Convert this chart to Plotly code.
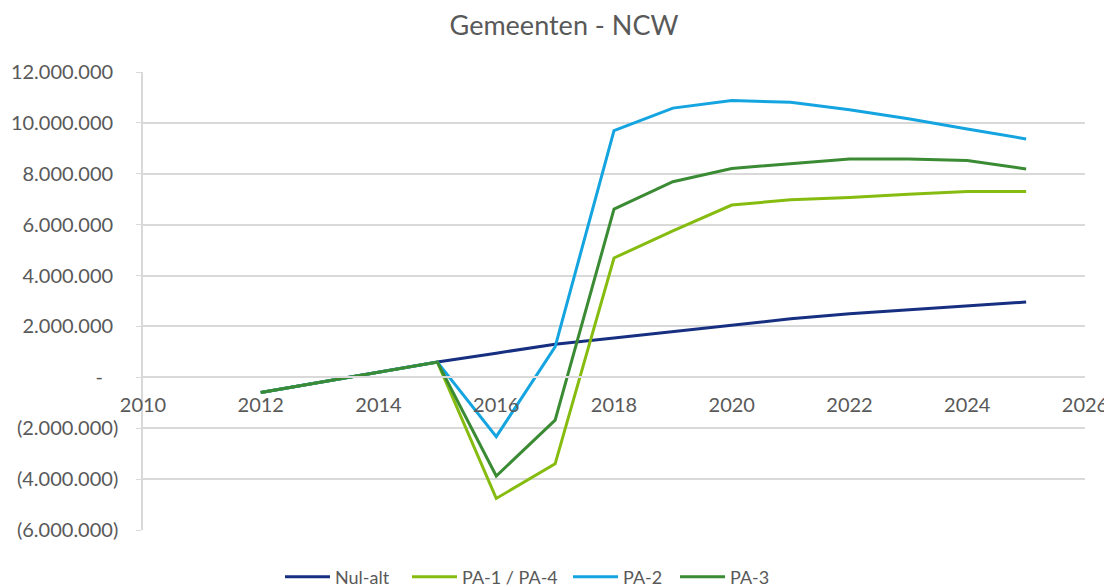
import plotly.graph_objects as go

years = list(range(2012, 2026))

nul_alt = [-600000, -200000, 200000, 600000, 950000, 1300000, 1550000, 1800000,
           2050000, 2300000, 2500000, 2650000, 2800000, 2960000]
pa1_pa4 = [-600000, -200000, 200000, 600000, -4760000, -3400000, 4690000, 5760000,
           6770000, 6980000, 7070000, 7200000, 7300000, 7300000]
pa2 = [-600000, -200000, 200000, 600000, -2330000, 1200000, 9700000, 10580000,
       10880000, 10810000, 10520000, 10160000, 9760000, 9370000]
pa3 = [-600000, -200000, 200000, 600000, -3880000, -1680000, 6610000, 7690000,
       8210000, 8390000, 8580000, 8580000, 8520000, 8190000]

series_names = ["Nul-alt", "PA-1 / PA-4", "PA-2", "PA-3"]
series_values = [nul_alt, pa1_pa4, pa2, pa3]
series_colors = ["#172F80", "#86BC10", "#14A4E0", "#3A8B33"]

y_tickvals = [-6000000, -4000000, -2000000, 0, 2000000, 4000000, 6000000,
              8000000, 10000000, 12000000]
y_ticktext = ["(6.000.000)", "(4.000.000)", "(2.000.000)", "-\u00a0\u00a0\u00a0",
              "2.000.000\u00a0", "4.000.000\u00a0", "6.000.000\u00a0",
              "8.000.000\u00a0", "10.000.000\u00a0", "12.000.000\u00a0"]
x_tickvals = list(range(2010, 2027, 2))

font_family = "Lato, 'Open Sans', sans-serif"
grey = "#595959"
ymin, ymax = -6000000, 12000000

# legend entry left positions (container fraction), one legend per series
legend_ids = ["legend", "legend2", "legend3", "legend4"]
legend_x = [272 / 1112, 399 / 1112, 560 / 1112, 667 / 1112]

fig = go.Figure()
for name, vals, col, lid in zip(series_names, series_values, series_colors, legend_ids):
    fig.add_trace(go.Scatter(x=years, y=vals, name=name, mode="lines",
                             legend=lid, line=dict(color=col, width=3)))

legend_common = dict(orientation="h", xanchor="left", xref="container",
                     y=-0.103, yanchor="middle", font=dict(size=18, color=grey),
                     itemwidth=45, tracegroupgap=0, bgcolor="rgba(0,0,0,0)")

layout_legends = {lid: dict(x=lx, **legend_common) for lid, lx in zip(legend_ids, legend_x)}

fig.update_layout(
    width=1112, height=587, autosize=False,
    margin=dict(l=135, r=35, t=64, b=65, autoexpand=False),
    paper_bgcolor="white", plot_bgcolor="white",
    font=dict(family=font_family, color=grey, size=20),
    title=dict(text="Gemeenten - NCW", x=0.5, xref="container", xanchor="center",
               y=0.97, yref="container", yanchor="middle",
               font=dict(size=27, color=grey, family=font_family)),
    showlegend=True,
    xaxis=dict(range=[2010, 2026], tickvals=x_tickvals, showgrid=False,
               domain=[0, 1], automargin=False, tickangle=0,
               zeroline=False, showline=True, linecolor="#D9D9D9", linewidth=1.5,
               anchor="free", position=(0 - ymin) / (ymax - ymin),
               ticks="outside", ticklen=10, tickcolor="rgba(0,0,0,0)",
               tickfont=dict(size=20, color=grey)),
    yaxis=dict(range=[ymin, ymax], tickvals=y_tickvals, ticktext=y_ticktext,
               domain=[0, 1], automargin=False,
               showgrid=True, gridcolor="#D9D9D9", gridwidth=1.5,
               zeroline=False, showline=True, linecolor="#D9D9D9", linewidth=1.5,
               ticks="outside", ticklen=5, tickcolor="#D9D9D9",
               ticklabelstandoff=14,
               tickfont=dict(size=20, color=grey)),
    **layout_legends,
)

fig.write_html("out.html")
